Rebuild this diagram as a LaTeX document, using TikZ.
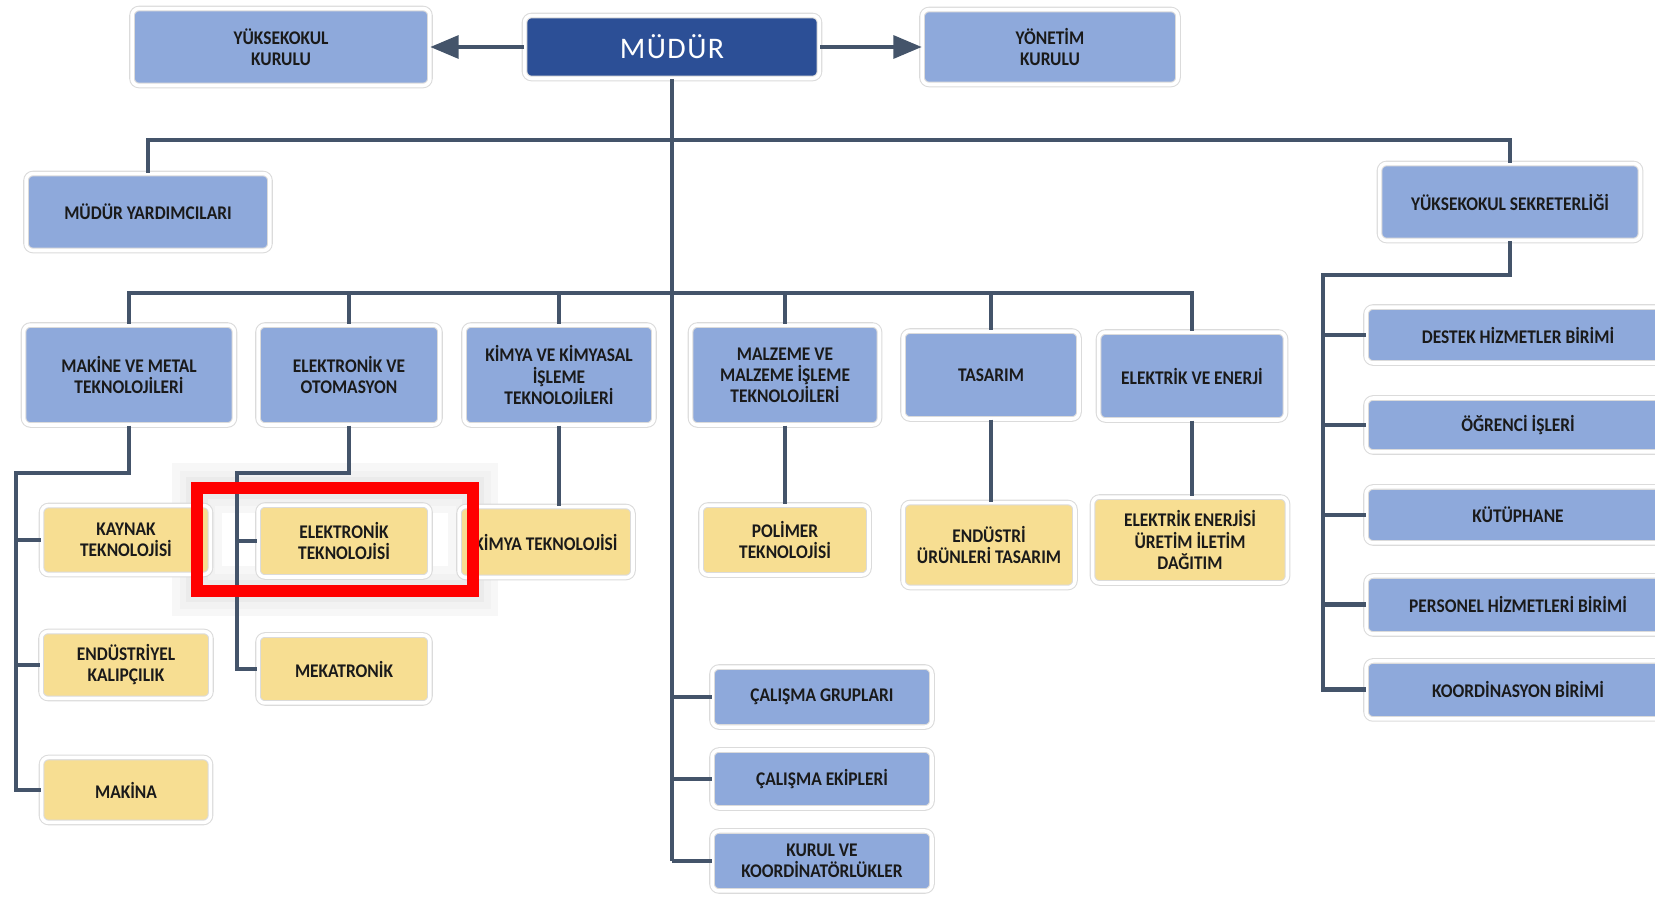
\documentclass[tikz,border=0pt]{standalone}
\usepackage{fontspec}
\setmainfont{Carlito}[FakeStretch=0.9]
\newfontfamily\headfont{Carlito}[LetterSpace=5]
\usetikzlibrary{shapes.geometric, arrows, shadows}
\definecolor{boxblue}{HTML}{8EA9DB}
\definecolor{darkblue}{HTML}{2C4F96}
\definecolor{boxyellow}{HTML}{F7DE92}
\definecolor{linegray}{HTML}{44546A}
\definecolor{textdark}{HTML}{1A1A1A}
\tikzstyle{unit} = [rectangle, rounded corners=4pt, draw=black!14, line width=0.6pt, double=white, double distance=2pt, fill=boxblue, align=center, text=textdark, font=\bfseries\fontsize{11}{12}\selectfont, drop shadow={opacity=0.25, shadow xshift=0.8pt, shadow yshift=-0.8pt}]
\tikzstyle{head} = [unit, fill=darkblue, text=white, font=\headfont\fontsize{17}{18}\selectfont]
\tikzstyle{program} = [unit, fill=boxyellow]
\tikzstyle{link} = [draw=linegray, line width=2.8pt]
\tikzstyle{arrow} = [link, ->, >=triangle 45]

\begin{document}
\begin{tikzpicture}[x=0.02cm, y=-0.02cm]
\useasboundingbox (0,0) rectangle (1655,903);

% soft glow round the highlight
\draw [black!3, line width=1.0cm] (197,488) rectangle (473,591);
\draw [black!5, line width=0.7cm] (197,488) rectangle (473,591);
\draw [black!8, line width=0.45cm] (197,488) rectangle (473,591);

% top row
\node (mudur) [head, minimum width=5.9cm, minimum height=1.26cm] at (672,47) {MÜDÜR};
\node (yk) [unit, minimum width=5.96cm, minimum height=1.54cm] at (281,47) {YÜKSEKOKUL\\KURULU};
\node (yonetim) [unit, minimum width=5.12cm, minimum height=1.5cm] at (1050,47) {YÖNETİM\\KURULU};

\node (yard) [unit, minimum width=4.88cm, minimum height=1.54cm] at (148,212) {MÜDÜR YARDIMCILARI};
\node (sekr) [unit, minimum width=5.22cm, minimum height=1.54cm] at (1510,202) {YÜKSEKOKUL SEKRETERLİĞİ};

% departments
\node (makine) [unit, minimum width=4.22cm, minimum height=2cm] at (129,375) {MAKİNE VE METAL\\TEKNOLOJİLERİ};
\node (elkoto) [unit, minimum width=3.64cm, minimum height=2cm] at (349,375) {ELEKTRONİK VE\\OTOMASYON};
\node (kimya) [unit, minimum width=3.8cm, minimum height=2cm] at (559,375) {KİMYA VE KİMYASAL\\İŞLEME\\TEKNOLOJİLERİ};
\node (malzeme) [unit, minimum width=3.78cm, minimum height=2cm] at (785,375) {MALZEME VE\\MALZEME İŞLEME\\TEKNOLOJİLERİ};
\node (tasarim) [unit, minimum width=3.52cm, minimum height=1.76cm] at (991,375) {TASARIM};
\node (elenerji) [unit, minimum width=3.74cm, minimum height=1.76cm] at (1192,376) {ELEKTRİK VE ENERJİ};

% programs
\node (kaynak) [program, minimum width=3.38cm, minimum height=1.38cm] at (126,540) {KAYNAK\\TEKNOLOJİSİ};
\node (endkalip) [program, minimum width=3.4cm, minimum height=1.34cm, below of=kaynak, node distance=2.5cm] {ENDÜSTRİYEL\\KALIPÇILIK};
\node (makina) [program, minimum width=3.38cm, minimum height=1.3cm, below of=endkalip, node distance=2.5cm] {MAKİNA};

\node (elektek) [program, minimum width=3.44cm, minimum height=1.44cm] at (344,541) {ELEKTRONİK\\TEKNOLOJİSİ};
\node (mekat) [program, minimum width=3.44cm, minimum height=1.36cm, below of=elektek, node distance=2.56cm] {MEKATRONİK};

\node (kimtek) [program, minimum width=3.48cm, minimum height=1.42cm] at (546,542) {KİMYA TEKNOLOJİSİ};
\node (polimer) [program, minimum width=3.36cm, minimum height=1.4cm] at (785,540) {POLİMER\\TEKNOLOJİSİ};
\node (endurun) [program, minimum width=3.44cm, minimum height=1.7cm] at (989,545) {ENDÜSTRİ\\ÜRÜNLERİ TASARIM};
\node (enerjisi) [program, minimum width=3.9cm, minimum height=1.72cm] at (1190,540) {ELEKTRİK ENERJİSİ\\ÜRETİM İLETİM\\DAĞITIM};

% groups under the director
\node (calgrup) [unit, minimum width=4.4cm, minimum height=1.2cm] at (822,697) {ÇALIŞMA GRUPLARI};
\node (calekip) [unit, minimum width=4.4cm, minimum height=1.16cm, below of=calgrup, node distance=1.64cm] {ÇALIŞMA EKİPLERİ};
\node (kurul) [unit, minimum width=4.4cm, minimum height=1.2cm, below of=calekip, node distance=1.64cm] {KURUL VE\\KOORDİNATÖRLÜKLER};

% secretary units
\node (destek) [unit, minimum width=6.08cm, minimum height=1.12cm] at (1518,335) {DESTEK HİZMETLER BİRİMİ};
\node (ogrenci) [unit, minimum width=6.08cm, minimum height=1.08cm, below of=destek, node distance=1.8cm] {ÖĞRENCİ İŞLERİ};
\node (kutup) [unit, minimum width=6.08cm, minimum height=1.12cm, below of=ogrenci, node distance=1.8cm] {KÜTÜPHANE};
\node (personel) [unit, minimum width=6.08cm, minimum height=1.16cm, below of=kutup, node distance=1.8cm] {PERSONEL HİZMETLERİ BİRİMİ};
\node (koord) [unit, minimum width=6.08cm, minimum height=1.16cm, below of=personel, node distance=1.7cm] {KOORDİNASYON BİRİMİ};

\coordinate (bus1) at (672,140);
\coordinate (bus2) at (672,293);
\coordinate (mk) at (16,473);
\coordinate (ek) at (237,473);
\coordinate (sk) at (1323,275);

\draw [arrow] (mudur) -- (yk);
\draw [arrow] (mudur) -- (yonetim);
\draw [link] (mudur.south) -- (mudur.south |- kurul.west);
\draw [link] (yard.north) |- (bus1) -| (sekr.north);
\foreach \d in {makine,elkoto,kimya,malzeme,tasarim,elenerji}
  \draw [link] (bus2) -| (\d.north);

\draw [link] (makine.south) |- (mk) |- (makina.west);
\draw [link] (mk) |- (kaynak.west);
\draw [link] (mk) |- (endkalip.west);
\draw [link] (elkoto.south) |- (ek) |- (mekat.west);
\draw [link] (ek) |- (elektek.west);
\draw [link] (kimya.south) -- (kimya.south |- kimtek.north);
\draw [link] (malzeme.south) -- (malzeme.south |- polimer.north);
\draw [link] (tasarim.south) -- (tasarim.south |- endurun.north);
\draw [link] (elenerji.south) -- (elenerji.south |- enerjisi.north);

\foreach \g in {calgrup,calekip,kurul}
  \draw [link] (mudur.south |- \g.west) -- (\g.west);

\draw [link] (sekr.south) |- (sk) |- (koord.west);
\foreach \u in {destek,ogrenci,kutup,personel}
  \draw [link] (sk |- \u.west) -- (\u.west);

% highlight
\draw [red, line width=0.24cm] (197,488) rectangle (473,591);

\end{tikzpicture}
\end{document}
